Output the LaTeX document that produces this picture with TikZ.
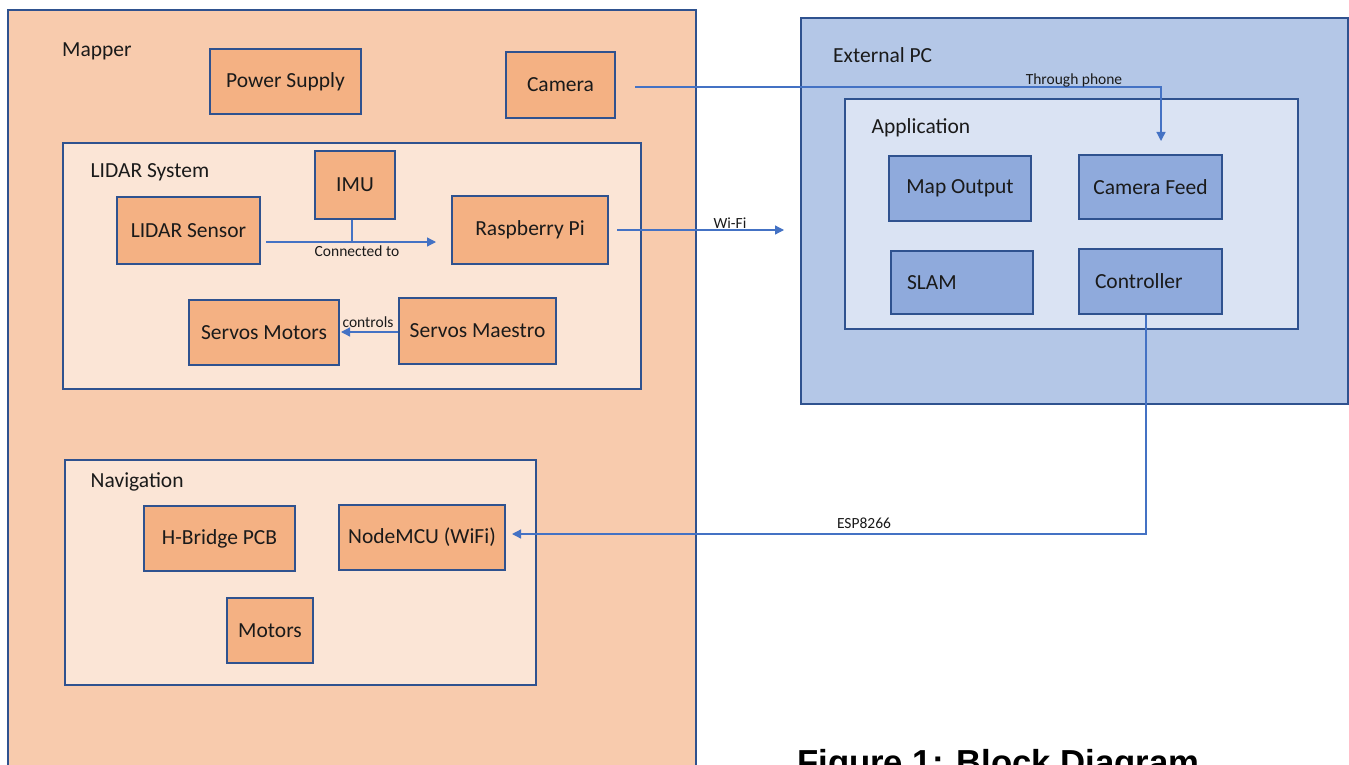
\documentclass[tikz,border=0pt]{standalone}
\usepackage{fontspec}
\setmainfont{Carlito}
\newfontfamily\capfont{Liberation Sans}
\usetikzlibrary{arrows.meta}
\definecolor{mapperfill}{HTML}{F8CBAD}
\definecolor{subfill}{HTML}{FBE5D6}
\definecolor{orbox}{HTML}{F4B183}
\definecolor{extfill}{HTML}{B4C7E7}
\definecolor{appfill}{HTML}{DAE3F3}
\definecolor{blbox}{HTML}{8FAADC}
\definecolor{bord}{HTML}{2F528F}
\definecolor{conncol}{HTML}{4472C4}
\definecolor{txt}{HTML}{1A1A1A}
\newcommand\mybig{\fontsize{21.5}{25}\selectfont}
\newcommand\mysmall{\fontsize{15.5}{18}\selectfont}
\begin{document}
\begin{tikzpicture}[x=1pt,y=-1pt,
  container/.style={draw=bord, line width=2pt, inner sep=0pt},
  obox/.style={draw=bord, line width=2pt, fill=orbox, inner sep=0pt, font=\mybig, text=txt},
  bbox/.style={draw=bord, line width=2pt, fill=blbox, inner sep=0pt, font=\mybig, text=txt},
  title/.style={anchor=base west, inner sep=0pt, font=\mybig, text=txt},
  lbl/.style={inner sep=0pt, font=\mysmall, text=txt},
  conn/.style={draw=conncol, line width=1.3pt, -{Triangle[length=9pt,width=9pt]}},
  plain/.style={draw=conncol, line width=1.3pt}
]
\useasboundingbox (0,0) rectangle (1349,765);
\fill[white] (0,0) rectangle (1349,765);
\clip (0,0) rectangle (1349,765);

% containers
\node[container, fill=mapperfill, minimum width=688pt, minimum height=790pt] (mapper) at (352,405) {};
\node[title] (mapperlbl) at (62,57) {Mapper};
\node[container, fill=subfill, minimum width=578pt, minimum height=246pt] (lidarsys) at (352,266) {};
\node[title] (lidarlbl) at (90.5,177.5) {LIDAR System};
\node[container, fill=subfill, minimum width=471pt, minimum height=225pt] (nav) at (300.5,572.5) {};
\node[title] (navlbl) at (90.5,487) {Navigation};
\node[container, fill=extfill, minimum width=547pt, minimum height=386pt] (ext) at (1074.5,211) {};
\node[title] (extlbl) at (833,63) {External PC};
\node[container, fill=appfill, minimum width=453pt, minimum height=230pt] (app) at (1071.5,214) {};
\node[title] (applbl) at (871.5,134) {Application};

% mapper boxes
\node[obox, minimum width=151pt, minimum height=65pt] (ps) at (285.5,81.5) {Power Supply};
\node[obox, minimum width=109pt, minimum height=66pt] (cam) at (560.5,85) {Camera};
\node[obox, minimum width=80pt, minimum height=68pt] (imu) at (355,185) {IMU};
\node[obox, minimum width=143pt, minimum height=67pt] (ls) at (188.5,230.5) {LIDAR Sensor};
\node[obox, minimum width=156pt, minimum height=68pt] (rpi) at (530,230) {Raspberry Pi};
\node[obox, minimum width=150pt, minimum height=65pt] (sm) at (264,332.5) {Servos Motors};
\node[obox, minimum width=157pt, minimum height=66pt] (smae) at (477.5,331) {Servos Maestro};
\node[obox, minimum width=151pt, minimum height=65pt] (hb) at (219.5,538.5) {H-Bridge PCB};
\node[obox, minimum width=166pt, minimum height=65pt] (nmcu) at (422,537.5) {NodeMCU (WiFi)};
\node[obox, minimum width=86pt, minimum height=65pt] (mot) at (270,630.5) {Motors};

% application boxes
\node[bbox, minimum width=142pt, minimum height=65pt] (mo) at (960,188.5) {Map Output};
\node[bbox, minimum width=143pt, minimum height=64pt] (cf) at (1150.5,187) {Camera Feed};
\node[bbox, minimum width=142pt, minimum height=63pt, text width=110pt, align=left] (slam) at (962,282.5) {SLAM};
\node[bbox, minimum width=143pt, minimum height=65pt, text width=111pt, align=left] (ctrl) at (1150.5,281.5) {Controller};

% connectors
\draw[conn] ([xshift=19pt,yshift=-2pt]cam.east) -| ([xshift=10.5pt,yshift=13pt]cf.north);
\node[lbl] (thrulbl) at (1074,80) {Through phone};
\draw[conn] ([xshift=5pt,yshift=-11.5pt]ls.east) -- ([xshift=-15pt,yshift=-12pt]rpi.west);
\draw[plain] ([xshift=-3pt]imu.south) -- ++(0,23);
\node[lbl] (connlbl) at (357,251) {Connected to};
\draw[conn] ([yshift=-1pt]smae.west) -- ++(-57,0);
\node[lbl] (ctrllbl) at (368,322) {controls};
\draw[conn] ([xshift=8pt]rpi.east) -- ++(167,0);
\node[lbl] (wifilbl) at (730,223) {Wi-Fi};
\draw[conn] ([xshift=-4.5pt]ctrl.south) |- ([xshift=6pt,yshift=3.5pt]nmcu.east);
\node[lbl] (esplbl) at (864,523) {ESP8266};

% caption
\node[anchor=base west, inner sep=0pt, font=\capfont\bfseries\fontsize{34.7}{40}\selectfont] (caption) at (797,774) {Figure 1: Block Diagram};
\end{tikzpicture}
\end{document}
